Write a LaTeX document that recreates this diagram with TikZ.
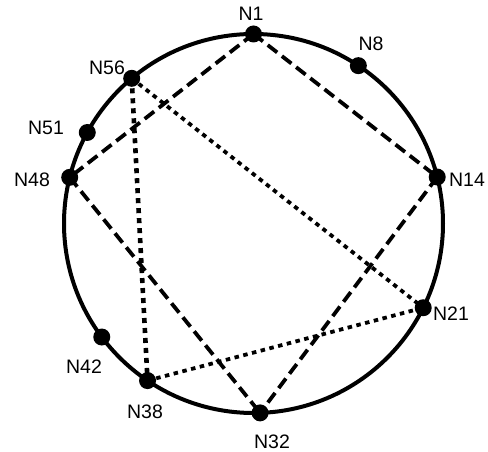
\documentclass[tikz,border=0pt]{standalone}
\usepackage{fontspec}
\setmainfont{Liberation Sans}
\usepackage{tikz}
\usetikzlibrary{backgrounds}

\begin{document}
\begin{tikzpicture}[
  x=1pt, y=1pt,
  ring/.style={draw, line width=4pt},
  peer/.style={circle, fill=black, inner sep=0pt, minimum size=17pt},
  lab/.style={font=\fontsize{19.5}{22}\selectfont, inner sep=0pt},
  finger/.style={line width=3.8pt, dash pattern=on 12pt off 6pt},
  succ/.style={line width=3.8pt, dash pattern=on 4.5pt off 4.5pt},
]
\useasboundingbox (0,0) rectangle (488,452);

% Chord ring, centre and radius in pixels of the original
\begin{scope}[shift={(253.5,228.5)}]
  \coordinate (centre) at (0,0);
  \foreach \id/\ang in {1/90, 8/56.4, 14/14.2, 21/-26.4, 32/-88,
                        38/236, 42/216.8, 48/165.9, 51/151.3, 56/130}
    \node[peer] (N\id) at (\ang:189.5) {};
\end{scope}

% Node labels
\node[lab] (L1)  at (251,438) {N1};
\node[lab] (L8)  at (371,408) {N8};
\node[lab] (L14) at (467,272) {N14};
\node[lab] (L21) at (451,138) {N21};
\node[lab] (L32) at (272,10)  {N32};
\node[lab] (L38) at (145,40)  {N38};
\node[lab] (L42) at (84,85)   {N42};
\node[lab] (L48) at (32,272)  {N48};
\node[lab] (L51) at (46,324)  {N51};
\node[lab] (L56) at (107,384) {N56};

\begin{scope}[on background layer]
  \draw[ring] (centre) circle (189.5);

  % finger pointers
  \draw[finger] (N1.center) -- (N48.center);
  \draw[finger] (N1.center) -- (N14.center);
  \draw[finger] (N14.center) -- (N32.center);
  \draw[finger] (N48.center) -- (N32.center);

  % lookup path
  \draw[succ, line width=4.6pt, dash pattern=on 5pt off 5pt] (N56.center) -- (N38.center);
  \draw[succ] (N56.center) -- (N21.center);
  \draw[succ] (N38.center) -- (N21.center);
\end{scope}

\end{tikzpicture}
\end{document}
